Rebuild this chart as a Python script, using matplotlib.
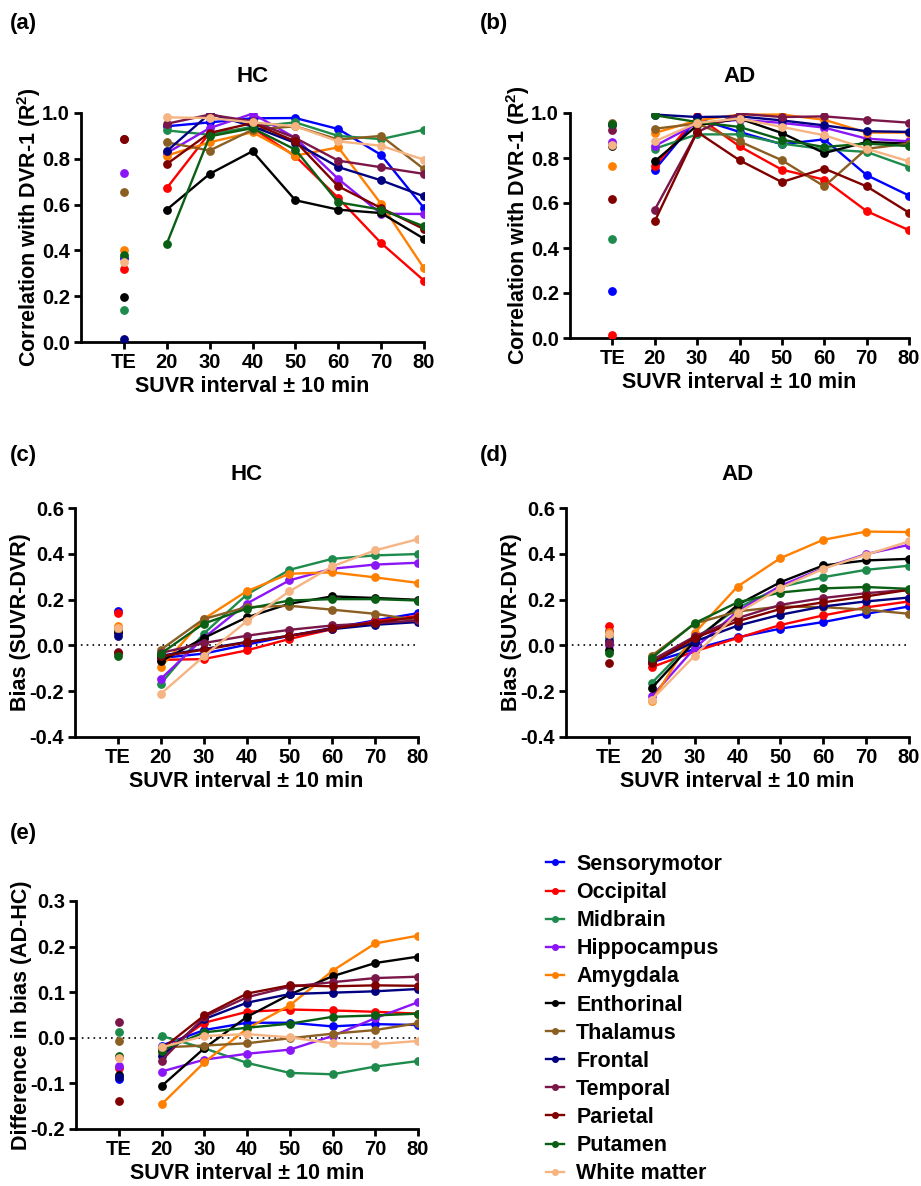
import matplotlib
matplotlib.use("Agg")
import matplotlib.pyplot as plt
from matplotlib.lines import Line2D

plt.rcParams['font.family'] = ['Liberation Sans', 'DejaVu Sans']
plt.rcParams['font.weight'] = 'bold'
plt.rcParams['axes.unicode_minus'] = False
plt.rcParams['mathtext.fontset'] = 'custom'
plt.rcParams['mathtext.rm'] = 'Liberation Sans:bold'
plt.rcParams['mathtext.it'] = 'Liberation Sans:bold'
plt.rcParams['mathtext.bf'] = 'Liberation Sans:bold'

regions = ['Sensorymotor', 'Occipital', 'Midbrain', 'Hippocampus', 'Amygdala',
           'Enthorinal', 'Thalamus', 'Frontal', 'Temporal', 'Parietal',
           'Putamen', 'White matter']
colors = ['#0000FF', '#FF0000', '#1E8B4C', '#8A16F7', '#FF8000', '#000000',
          '#8B5E22', '#000080', '#7A1648', '#800000', '#0A5F14', '#F5B482']
x_labels = ['TE', '20', '30', '40', '50', '60', '70', '80']
intervals = [20, 30, 40, 50, 60, 70, 80]

# (a) HC correlation with DVR-1
hc_r2_te = [0.365, 0.32, 0.14, 0.74, 0.40, 0.195, 0.655, 0.012, 0.888, 0.885, 0.38, 0.35]
hc_r2 = [
    [0.942, 0.959, 0.977, 0.978, 0.930, 0.817, 0.585],
    [0.672, 0.913, 0.934, 0.811, 0.629, 0.432, 0.268],
    [0.924, 0.905, 0.940, 0.959, 0.900, 0.886, 0.927],
    [0.825, 0.934, 0.997, 0.891, 0.712, 0.560, 0.559],
    [0.814, 0.872, 0.916, 0.814, 0.850, 0.603, 0.322],
    [0.578, 0.734, 0.833, 0.619, 0.578, 0.563, 0.451],
    [0.872, 0.836, 0.927, 0.942, 0.884, 0.900, 0.755],
    [0.833, 0.997, 0.942, 0.869, 0.764, 0.706, 0.636],
    [0.953, 0.993, 0.964, 0.891, 0.792, 0.763, 0.734],
    [0.777, 0.913, 0.956, 0.876, 0.680, 0.585, 0.493],
    [0.429, 0.898, 0.934, 0.840, 0.610, 0.578, 0.505],
    [0.981, 0.978, 0.959, 0.942, 0.876, 0.857, 0.796],
]

# (b) AD correlation with DVR-1
ad_r2_te = [0.21, 0.012, 0.44, 0.87, 0.765, 0.855, 0.957, 0.945, 0.925, 0.62, 0.95, 0.86]
ad_r2 = [
    [0.748, 0.975, 0.916, 0.861, 0.883, 0.724, 0.633],
    [0.763, 0.985, 0.852, 0.748, 0.704, 0.564, 0.479],
    [0.841, 0.905, 0.905, 0.864, 0.839, 0.827, 0.760],
    [0.853, 0.953, 0.970, 0.956, 0.935, 0.886, 0.874],
    [0.911, 0.967, 0.993, 0.993, 0.970, 0.913, 0.913],
    [0.785, 0.945, 0.975, 0.911, 0.822, 0.871, 0.864],
    [0.930, 0.953, 0.874, 0.790, 0.674, 0.841, 0.864],
    [0.993, 0.982, 0.985, 0.967, 0.945, 0.919, 0.916],
    [0.570, 0.916, 0.997, 0.982, 0.985, 0.970, 0.957],
    [0.519, 0.916, 0.790, 0.693, 0.753, 0.674, 0.557],
    [0.990, 0.960, 0.938, 0.881, 0.849, 0.864, 0.853],
    [0.874, 0.956, 0.975, 0.938, 0.901, 0.841, 0.785],
]

# (c) HC bias
hc_bias_te = [0.151, 0.142, 0.068, 0.052, 0.083, 0.06, 0.07, 0.042, -0.031, -0.035, -0.045, 0.075]
hc_bias = [
    [-0.055, -0.036, 0.003, 0.042, 0.076, 0.109, 0.141],
    [-0.063, -0.060, -0.022, 0.028, 0.071, 0.105, 0.129],
    [-0.167, 0.051, 0.221, 0.330, 0.378, 0.393, 0.399],
    [-0.147, 0.032, 0.182, 0.284, 0.335, 0.353, 0.361],
    [-0.095, 0.115, 0.236, 0.313, 0.319, 0.297, 0.273],
    [-0.070, 0.032, 0.122, 0.182, 0.214, 0.207, 0.199],
    [-0.019, 0.115, 0.167, 0.173, 0.156, 0.138, 0.109],
    [-0.045, -0.016, 0.015, 0.042, 0.071, 0.090, 0.102],
    [-0.033, 0.010, 0.042, 0.068, 0.087, 0.097, 0.109],
    [-0.048, -0.019, 0.013, 0.042, 0.074, 0.100, 0.124],
    [-0.036, 0.095, 0.160, 0.196, 0.202, 0.202, 0.196],
    [-0.212, -0.048, 0.105, 0.236, 0.345, 0.415, 0.464],
]

# (d) AD bias
ad_bias_te = [0.065, 0.083, 0.031, 0.0, 0.06, -0.022, 0.045, 0.02, 0.01, -0.077, -0.033, 0.05]
ad_bias = [
    [-0.074, -0.016, 0.035, 0.073, 0.102, 0.138, 0.170],
    [-0.095, -0.026, 0.032, 0.089, 0.131, 0.166, 0.192],
    [-0.164, 0.028, 0.163, 0.255, 0.298, 0.330, 0.348],
    [-0.223, -0.012, 0.148, 0.260, 0.337, 0.399, 0.439],
    [-0.244, 0.054, 0.257, 0.381, 0.461, 0.497, 0.495],
    [-0.186, 0.017, 0.177, 0.276, 0.349, 0.371, 0.378],
    [-0.045, 0.095, 0.148, 0.170, 0.167, 0.156, 0.138],
    [-0.074, 0.017, 0.086, 0.134, 0.170, 0.192, 0.209],
    [-0.065, 0.039, 0.119, 0.177, 0.207, 0.228, 0.243],
    [-0.077, 0.032, 0.105, 0.159, 0.188, 0.214, 0.243],
    [-0.055, 0.097, 0.188, 0.231, 0.249, 0.255, 0.247],
    [-0.237, -0.045, 0.141, 0.250, 0.335, 0.396, 0.454],
]

# (e) difference in bias AD-HC
diff_te = [-0.090, -0.067, 0.012, -0.062, -0.043, -0.082, -0.006, -0.085, 0.035, -0.138, -0.039, -0.045]
diff_bias = [
    [-0.017, 0.017, 0.033, 0.033, 0.025, 0.030, 0.028],
    [-0.032, 0.033, 0.057, 0.062, 0.060, 0.057, 0.053],
    [0.004, -0.023, -0.055, -0.077, -0.080, -0.063, -0.051],
    [-0.074, -0.048, -0.035, -0.026, 0.004, 0.043, 0.078],
    [-0.146, -0.054, 0.020, 0.071, 0.147, 0.207, 0.224],
    [-0.106, -0.023, 0.046, 0.095, 0.135, 0.164, 0.178],
    [-0.021, -0.017, -0.012, -0.001, 0.009, 0.017, 0.032],
    [-0.041, 0.041, 0.077, 0.096, 0.099, 0.102, 0.107],
    [-0.050, 0.046, 0.089, 0.112, 0.122, 0.131, 0.134],
    [-0.025, 0.049, 0.097, 0.115, 0.113, 0.115, 0.114],
    [-0.028, 0.012, 0.022, 0.031, 0.046, 0.049, 0.053],
    [-0.021, 0.004, 0.008, 0.001, -0.012, -0.014, -0.007],
]

W, H = 921, 1186
fig = plt.figure(figsize=(W / 100, H / 100), dpi=100)


def px_axes(left, right, top, bottom):
    return fig.add_axes([left / W, 1 - bottom / H, (right - left) / W, (bottom - top) / H])


def draw_panel(ax, te, series, ylim, yticks, ylabel, title=None, tpad=22, zero=False):
    xpos = list(range(2, 2 + len(intervals)))
    if zero:
        ax.axhline(0, color='black', ls=(0, (1, 2.5)), lw=1.2, zorder=1)
    for i in range(len(regions)):
        ax.plot(xpos, series[i], color=colors[i], lw=1.7, marker='o', ms=5.3, zorder=3)
        ax.plot([1], [te[i]], color=colors[i], marker='o', ms=5.3, ls='none', zorder=3)
    ax.set_xlim(0, 8)
    ax.set_ylim(*ylim)
    ax.set_xticks(range(1, 9))
    ax.set_xticklabels(x_labels)
    ax.set_yticks(yticks)
    ax.set_yticklabels(['%.1f' % v for v in yticks])
    for s in ['top', 'right']:
        ax.spines[s].set_visible(False)
    for s in ['left', 'bottom']:
        ax.spines[s].set_linewidth(2)
    ax.tick_params(width=2, length=5, labelsize=14.5, direction='out', pad=3)
    for lab in ax.get_xticklabels() + ax.get_yticklabels():
        lab.set_fontweight('bold')
    ax.set_xlabel('SUVR interval \u00b1 10 min', fontsize=15.5, fontweight='bold', labelpad=3)
    ax.set_ylabel(ylabel, fontsize=15.5, fontweight='bold', labelpad=-1)
    if title:
        ax.set_title(title, fontsize=16, fontweight='bold', pad=tpad)


r2_ticks = [0.0, 0.2, 0.4, 0.6, 0.8, 1.0]
bias_ticks = [-0.4, -0.2, 0.0, 0.2, 0.4, 0.6]
diff_ticks = [-0.2, -0.1, 0.0, 0.1, 0.2, 0.3]

ax_a = px_axes(81, 424, 113, 342)
draw_panel(ax_a, hc_r2_te, hc_r2, (0, 1.0), r2_ticks, 'Correlation with DVR-1 (R$^2$)', 'HC')
ax_b = px_axes(570, 909, 113, 338)
draw_panel(ax_b, ad_r2_te, ad_r2, (0, 1.0), r2_ticks, 'Correlation with DVR-1 (R$^2$)', 'AD')
ax_c = px_axes(75, 418, 508, 737)
draw_panel(ax_c, hc_bias_te, hc_bias, (-0.4, 0.6), bias_ticks, 'Bias (SUVR-DVR)', 'HC', tpad=20, zero=True)
ax_d = px_axes(566, 909, 508, 737)
draw_panel(ax_d, ad_bias_te, ad_bias, (-0.4, 0.6), bias_ticks, 'Bias (SUVR-DVR)', 'AD', tpad=20, zero=True)
ax_e = px_axes(76, 418, 901, 1129)
draw_panel(ax_e, diff_te, diff_bias, (-0.2, 0.3), diff_ticks, 'Difference in bias (AD-HC)', zero=True)

for lab, x, y in [('(a)', 10, 23), ('(b)', 480, 23), ('(c)', 10, 456), ('(d)', 480, 456), ('(e)', 10, 834)]:
    fig.text(x / W, 1 - y / H, lab, fontsize=16, fontweight='bold', va='center', ha='left')

handles = [Line2D([], [], color=c, lw=1.7, marker='o', ms=4) for c in colors]
fig.legend(handles, regions, loc='upper left', bbox_to_anchor=(546 / W, 1 - 854 / H),
           frameon=False, handlelength=0.85, handletextpad=0.55, labelspacing=0.33,
           borderpad=0, borderaxespad=0, prop={'size': 15.5, 'weight': 'bold'})

fig.savefig('out.png', dpi=100)
